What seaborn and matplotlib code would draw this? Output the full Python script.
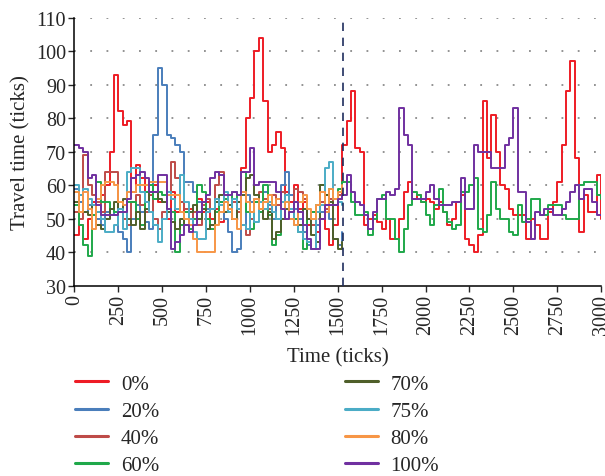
import matplotlib
matplotlib.use("Agg")
import matplotlib.pyplot as plt
import seaborn as sns
import pandas as pd
from matplotlib.lines import Line2D

# ---- data ----
time_long = list(range(0, 3001, 25))    # 0% , 60%, 100% run the full 3000 ticks
time_short = list(range(0, 1526, 25))   # other scenarios stop at ~1530 ticks

p0 = [45, 48, 44, 50, 55, 52, 57, 60, 70, 93,
      82, 78, 79, 58, 66, 62, 55, 57, 60, 55,
      55, 50, 58, 52, 55, 48, 53, 50, 56, 52,
      55, 50, 53, 49, 55, 52, 50, 53, 65, 80,
      86, 100, 104, 85, 70, 72, 76, 71, 58, 55,
      60, 53, 55, 48, 52, 46, 50, 47, 42, 48,
      56, 72, 79, 88, 71, 70, 48, 50, 51, 49,
      47, 50, 44, 44, 50, 58, 61, 56, 57, 55,
      56, 55, 53, 55, 52, 48, 50, 55, 57, 44,
      42, 40, 45, 85, 68, 81, 70, 60, 59, 53,
      51, 51, 51, 44, 50, 48, 44, 44, 52, 55,
      61, 72, 88, 97, 68, 46, 57, 52, 52, 63,
      50]
p100 = [72, 71, 70, 62, 63, 54, 51, 51, 51, 51,
        52, 52, 56, 62, 63, 64, 62, 58, 58, 63,
        63, 53, 41, 43, 45, 48, 46, 48, 52, 55,
        57, 62, 64, 63, 57, 57, 58, 57, 64, 64,
        71, 60, 61, 61, 61, 61, 58, 53, 50, 52,
        55, 52, 48, 44, 41, 41, 50, 54, 54, 54,
        56, 57, 63, 58, 55, 54, 51, 47, 52, 56,
        56, 58, 57, 59, 83, 75, 72, 56, 56, 56,
        58, 60, 56, 54, 54, 54, 55, 55, 62, 53,
        53, 72, 70, 70, 70, 65, 65, 65, 72, 74,
        83, 58, 58, 49, 44, 52, 51, 53, 53, 51,
        51, 53, 55, 58, 60, 56, 59, 59, 55, 51,
        51]
p60 = [54, 48, 42, 39, 51, 61, 55, 55, 53, 52,
       52, 52, 55, 55, 50, 48, 58, 60, 56, 58,
       57, 53, 52, 40, 48, 52, 47, 50, 60, 58,
       50, 47, 52, 55, 56, 52, 58, 55, 64, 52,
       47, 55, 52, 60, 51, 42, 45, 53, 55, 52,
       50, 46, 41, 50, 52, 54, 60, 57, 59, 56,
       59, 61, 61, 55, 51, 51, 52, 45, 50, 56,
       57, 50, 50, 44, 40, 47, 54, 58, 57, 55,
       51, 48, 54, 59, 52, 49, 47, 48, 58, 58,
       60, 62, 47, 46, 51, 61, 53, 50, 50, 46,
       45, 54, 49, 50, 56, 56, 51, 51, 54, 54,
       54, 51, 50, 50, 50, 60, 61, 61, 61, 57,
       56]
p20 = [59, 55, 52, 54, 51, 50, 48, 52, 53, 51,
       46, 44, 40, 50, 54, 52, 49, 47, 75, 95,
       90, 75, 74, 72, 70, 61, 61, 58, 55, 55,
       53, 53, 55, 55, 50, 46, 40, 41, 48, 57,
       55, 56, 52, 58, 54, 50, 56, 60, 64, 57,
       53, 50, 46, 42, 41, 48, 52, 54, 50, 44,
       42, 46]
p40 = [52, 50, 69, 60, 57, 55, 52, 64, 64, 64,
       52, 50, 48, 55, 57, 54, 52, 57, 50, 47,
       52, 58, 67, 62, 55, 53, 50, 52, 48, 54,
       56, 53, 60, 64, 57, 53, 55, 52, 48, 45,
       50, 55, 58, 56, 53, 57, 54, 58, 55, 52,
       59, 58, 56, 50, 48, 52, 55, 53, 56, 54,
       57, 56]
p70 = [55, 57, 52, 51, 54, 48, 47, 50, 53, 55,
       52, 56, 50, 48, 52, 47, 53, 58, 58, 56,
       55, 52, 49, 47, 50, 48, 52, 54, 50, 53,
       47, 48, 55, 57, 52, 54, 50, 55, 57, 62,
       63, 57, 53, 50, 52, 44, 46, 50, 53, 50,
       55, 48, 53, 50, 45, 43, 60, 57, 55, 44,
       41, 43]
p75 = [60, 57, 59, 56, 54, 52, 50, 46, 46, 48,
       53, 47, 64, 65, 65, 58, 55, 52, 48, 43,
       50, 58, 56, 53, 63, 55, 50, 46, 44, 44,
       52, 53, 56, 54, 58, 52, 56, 53, 48, 47,
       52, 49, 55, 53, 55, 52, 50, 55, 57, 53,
       48, 46, 44, 43, 41, 52, 54, 65, 67, 56,
       55, 54]
p80 = [58, 52, 58, 53, 47, 56, 60, 61, 61, 60,
       55, 54, 58, 58, 60, 60, 60, 61, 61, 61,
       61, 57, 57, 57, 52, 50, 48, 44, 40, 40,
       40, 40, 48, 52, 55, 53, 50, 47, 58, 55,
       52, 56, 53, 55, 57, 54, 56, 53, 55, 50,
       48, 55, 57, 53, 50, 54, 58, 52, 59, 56,
       58, 60]

labels = ["0%", "20%", "40%", "60%", "70%", "75%", "80%", "100%"]
series = {"0%": (time_long, p0), "20%": (time_short, p20), "40%": (time_short, p40),
          "60%": (time_long, p60), "70%": (time_short, p70), "75%": (time_short, p75),
          "80%": (time_short, p80), "100%": (time_long, p100)}
colors = ["#ee1c25", "#4a7ebb", "#be4b48", "#1fa84a", "#4f5f2a", "#4bacc6", "#f79646", "#7030a0"]
switch_time = 1530
yticks = list(range(30, 111, 10))
xticks = list(range(0, 3001, 250))

rows = []
for lab in labels:
    ts, vs = series[lab]
    for t, v in zip(ts, vs):
        rows.append({"t": t, "v": v, "s": lab})
df = pd.DataFrame(rows)
palette = dict(zip(labels, colors))

# ---- figure ----
sns.set_style("ticks")
plt.rcParams["font.family"] = ["Liberation Serif", "DejaVu Serif"]

fig = plt.figure(figsize=(6.05, 4.77), dpi=100)
ax = fig.add_axes([0.123, 0.399, 0.8705, 0.562])

for y in yticks[1:]:
    ax.axhline(y, color="#8a8a8a", lw=1.3, ls=(0, (1, 8)), zorder=0)

sns.lineplot(data=df, x="t", y="v", hue="s", hue_order=labels, palette=palette,
             estimator=None, drawstyle="steps-post", lw=1.4, legend=False, ax=ax)

ax.axvline(switch_time, color="#1f2d5e", lw=1.2, ls=(0, (5, 4)), zorder=5)

ax.set_xlim(0, 3000)
ax.set_ylim(30, 110)
ax.set_xticks(xticks)
ax.set_yticks(yticks)
ax.tick_params(axis="x", labelrotation=90, labelsize=14.5, length=4, width=1, pad=2)
ax.tick_params(axis="y", labelsize=14.5, length=4, width=1, pad=2)
ax.set_xlabel("Time (ticks)", fontsize=15, labelpad=9)
ax.set_ylabel("Travel time (ticks)", fontsize=15, labelpad=4)
for sp in ["top", "right"]:
    ax.spines[sp].set_visible(False)
for sp in ["left", "bottom"]:
    ax.spines[sp].set_linewidth(1.1)
    ax.spines[sp].set_color("black")

handles = [Line2D([0], [0], color=c, lw=2.2) for c in colors]
fig.legend(handles, labels, ncol=2, loc="upper left", bbox_to_anchor=(0.124, 0.214),
           frameon=False, fontsize=15, handlelength=1.6, handletextpad=0.6,
           columnspacing=8.9, labelspacing=0.37, borderaxespad=0, borderpad=0)

fig.savefig("out.png", dpi=100)
